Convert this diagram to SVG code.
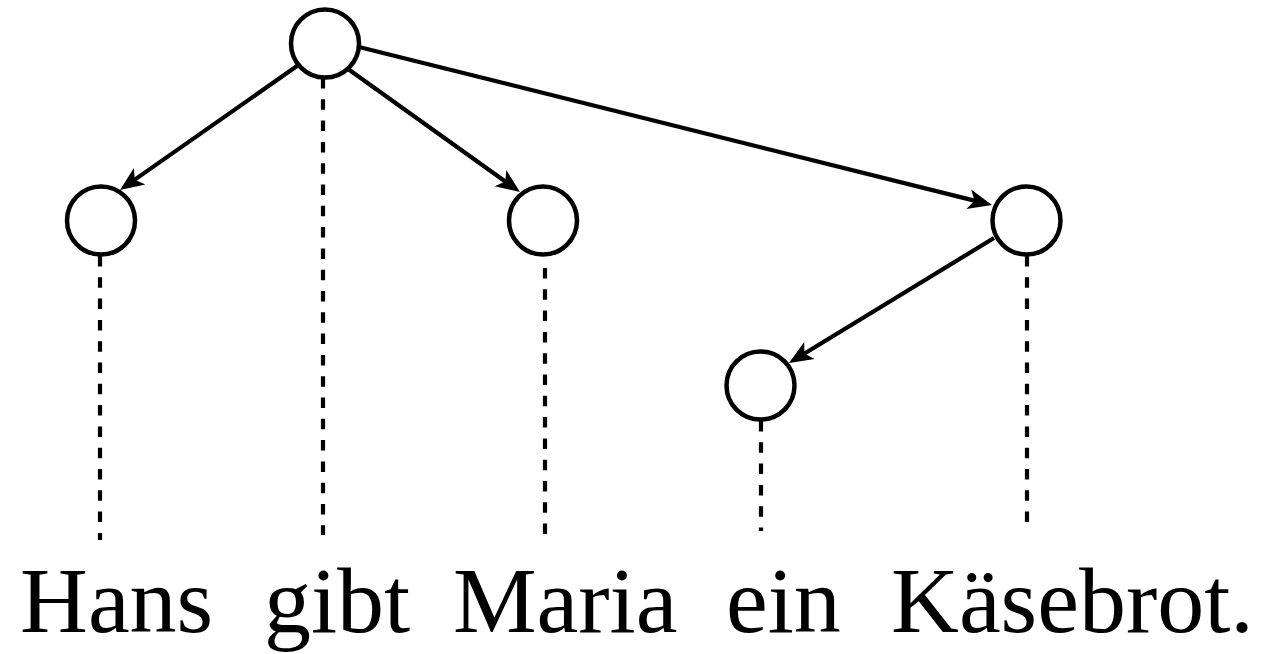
<svg xmlns="http://www.w3.org/2000/svg" width="1286" height="654" viewBox="0 0 1286 654">
<style>
.node{fill:#fff;stroke:#000;stroke-width:4.5}
.arrow{fill:none;stroke:#000;stroke-width:4.2;marker-end:url(#ah)}
.dash{fill:none;stroke:#000;stroke-width:4.2;stroke-dasharray:10.5 10.8}
.word{font-family:"Liberation Serif","Times New Roman",serif;font-size:94px;fill:#000}
</style>
<defs>
<marker id="ah" viewBox="0 0 24 24" refX="12" refY="12" markerWidth="24" markerHeight="24" markerUnits="userSpaceOnUse" orient="auto">
<path d="M24,12 L0,2 L6,12 L0,22 Z" fill="#000"/>
</marker>
</defs>
<g id="connectors">
<path class="arrow" d="M297,66 L129.8,183.1"/>
<path class="arrow" d="M348,69 L510.2,185.0"/>
<path class="arrow" d="M359,47 L980.4,202.1"/>
<path class="arrow" d="M994,238 L799.2,356.7"/>
<path class="dash" d="M100,256 L100,540"/>
<path class="dash" d="M323,78 L323,535"/>
<path class="dash" d="M545,268 L545,540"/>
<path class="dash" d="M761,421 L761,531"/>
<path class="dash" d="M1027,256 L1027,525"/>
</g>
<g id="n-root"><circle class="node" cx="325" cy="43.5" r="34"/></g>
<g id="n-hans"><circle class="node" cx="101" cy="220.5" r="34"/></g>
<g id="n-maria"><circle class="node" cx="543" cy="220.5" r="34"/></g>
<g id="n-kaesebrot"><circle class="node" cx="1026.5" cy="220.5" r="34"/></g>
<g id="n-ein"><circle class="node" cx="760.5" cy="385.5" r="34"/></g>
<g id="sentence">
<text class="word" y="632"><tspan x="20">Hans</tspan><tspan x="264">gibt</tspan><tspan x="453">Maria</tspan><tspan x="726">ein</tspan><tspan x="891">Käsebrot.</tspan></text>
</g>
</svg>
